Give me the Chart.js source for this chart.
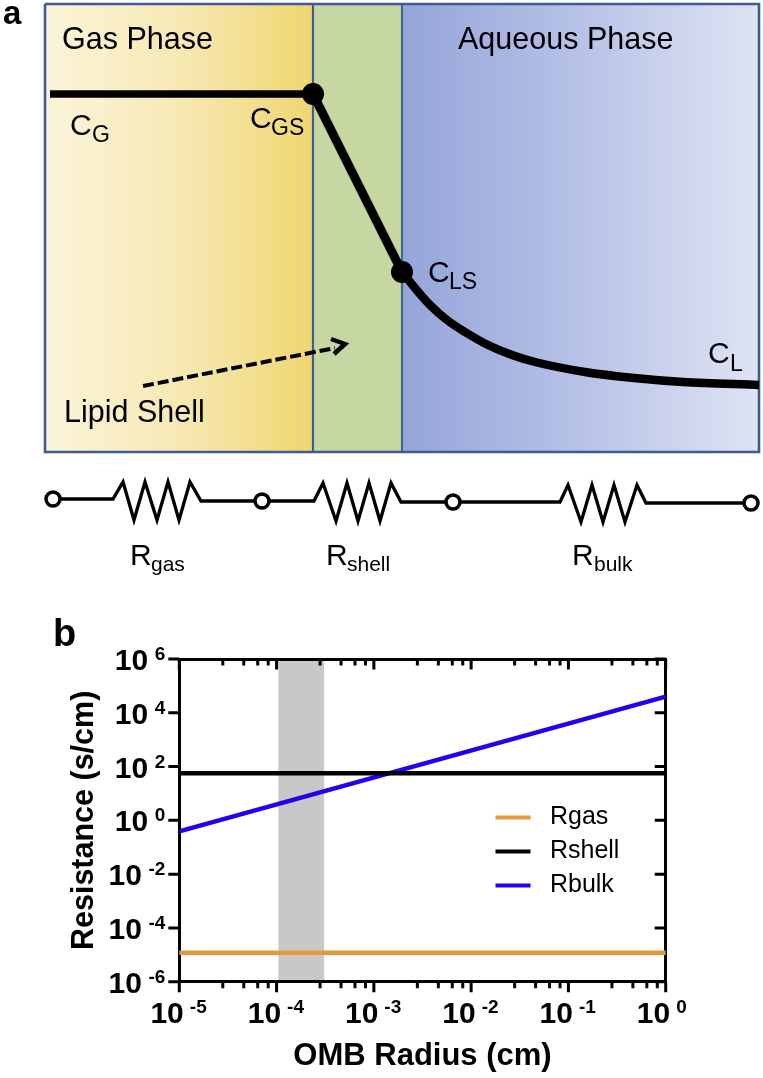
<!DOCTYPE html>
<html>
<head>
<meta charset="utf-8">
<title>OMB resistance</title>
<script src="https://cdn.jsdelivr.net/npm/chart.js@4/dist/chart.umd.min.js"></script>
<style>
  html, body { margin: 0; padding: 0; background: #fff; }
  #page { position: relative; width: 763px; height: 1078px; overflow: hidden; }
  canvas { position: absolute; left: 0; }
  #diagram { top: 0; }
  #resistance { top: 600px; }
</style>
</head>
<body>
<div id="page">
  <canvas id="diagram" width="763" height="600"></canvas>
  <canvas id="resistance" width="763" height="478"></canvas>
</div>
<script>
// panel a
const frameX = [45, 759, 759, 45, 45];
const frameY = [4, 4, 452, 452, 4];
const gasX = [45, 313];
const shellX = [313, 402];
const aqueousX = [402, 759];
const regionTop = [4, 4];
const regionBottom = 452;
const gasEdgeX = [313, 313];
const aqueousEdgeX = [402, 402];
const edgeY = [4, 452];

const flatX = [50, 313];
const flatY = [94, 94];
const slopeX = [313, 402];
const slopeY = [94, 272];
const decayX = [402, 415, 430, 447, 465, 488, 512, 537, 585, 634, 683, 759];
const decayY = [272, 288, 305, 320, 332, 345, 355, 362.5, 372, 378, 382, 385];
const dotX = [313, 402];
const dotY = [94, 272];
const arrowX = [143, 335];
const arrowY = [386, 348];
const arrowHeadX = [331, 345, 334];
const arrowHeadY = [339, 344, 354];

// circuit
const wire1X = [53, 113, 123, 134, 145, 157, 168, 179, 190, 201, 254];
const wire1Y = [499, 499, 482, 520, 482, 520, 482, 520, 482, 501, 501];
const wire2X = [270, 314, 323, 336, 347, 358, 369, 380, 391, 401, 445];
const wire2Y = [501, 501, 483, 521, 483, 521, 483, 521, 483, 502, 502];
const wire3X = [461, 560, 568, 581, 592, 603, 614, 625, 637, 646, 743];
const wire3Y = [502, 502, 485, 522, 485, 522, 485, 522, 485, 503, 503];
const nodeX = [53, 262, 453, 751];
const nodeY = [499, 501, 502, 503];

// panel b
const xTickValues = [1e-5, 1e-4, 1e-3, 1e-2, 1e-1, 1];
const xTickExponents = ['-5', '-4', '-3', '-2', '-1', '0'];
const xMinorFactors = [2.8, 4.6, 6.4, 8.2];
const yTickValues = [1e-6, 1e-4, 1e-2, 1, 1e2, 1e4, 1e6];
const yTickExponents = ['-6', '-4', '-2', '0', '2', '4', '6'];

const radius = [1e-5, 1];
const rgas = [1.2e-5, 1.2e-5];
const rshell = [57, 57];
const rbulk = [0.39, 40000];
const seriesNames = ['Rgas', 'Rshell', 'Rbulk'];
const bandX = [1.04e-4, 3.1e-4];
const bandTop = [1e6, 1e6];

const FONT = '"Liberation Sans", Arial, sans-serif';
const pts = (xs, ys) => xs.map((x, i) => ({ x: x, y: ys[i] }));

function hGradient(xFrom, xTo, stops) {
    return function (ctx) {
        const chart = ctx.chart;
        const x0 = chart.scales.x ? chart.scales.x.getPixelForValue(xFrom) : NaN;
        const x1 = chart.scales.x ? chart.scales.x.getPixelForValue(xTo) : NaN;
        // scales have no size yet on the first option pass
        if (!Number.isFinite(x0) || !Number.isFinite(x1)) return stops[0];
        const g = chart.ctx.createLinearGradient(x0, 0, x1, 0);
        stops.forEach((c, i) => g.addColorStop(i / (stops.length - 1), c));
        return g;
    };
}

// text on the diagram: [text, x, baseline y, size, subscript, sub dx, sub dy, sub size]
const diagramLabels = [
    ['Gas Phase', 62, 49, 30.5],
    ['Aqueous Phase', 458, 49, 30.5],
    ['Lipid Shell', 64, 422, 30.5],
    ['C', 70, 135, 30, 'G', 22, 7, 23],
    ['C', 250, 128, 30, 'GS', 21, 7, 23],
    ['C', 428, 282, 30, 'LS', 21, 7, 23],
    ['C', 708, 363, 30, 'L', 22, 8, 23],
    ['R', 130, 565, 30, 'gas', 21, 6, 21],
    ['R', 326, 565, 30, 'shell', 21, 6, 21],
    ['R', 572, 565, 30, 'bulk', 22, 6, 21]
];

const diagramText = {
    id: 'diagramText',
    afterDatasetsDraw(chart) {
        const c = chart.ctx, sx = chart.scales.x, sy = chart.scales.y;
        c.save();
        c.fillStyle = '#000';
        c.textAlign = 'left';
        c.textBaseline = 'alphabetic';
        diagramLabels.forEach(l => {
            const x = sx.getPixelForValue(l[1]), y = sy.getPixelForValue(l[2]);
            c.font = l[3] + 'px ' + FONT;
            c.fillText(l[0], x, y);
            if (l[4]) {
                c.font = l[7] + 'px ' + FONT;
                c.fillText(l[4], x + l[5], y + l[6]);
            }
        });
        c.font = 'bold 33px ' + FONT;
        c.fillText('a', 3, 24);
        c.restore();
    }
};

const wire = (xs, ys) => ({
    data: pts(xs, ys), showLine: true, borderColor: '#000', borderWidth: 3.3,
    pointRadius: 0, borderJoinStyle: 'miter', clip: false
});

new Chart(document.getElementById('diagram'), {
    type: 'scatter',
    data: {
        // first dataset ends up on top
        datasets: [
            { data: pts(dotX, dotY), pointRadius: 11, pointBackgroundColor: '#000', pointBorderWidth: 0, showLine: false },
            { data: pts(flatX, flatY), showLine: true, borderColor: '#000', borderWidth: 7.5, pointRadius: 0 },
            { data: pts(slopeX, slopeY), showLine: true, borderColor: '#000', borderWidth: 9, pointRadius: 0 },
            { data: pts(decayX, decayY), showLine: true, borderColor: '#000', borderWidth: 8.5, pointRadius: 0, cubicInterpolationMode: 'monotone', clip: false },
            { data: pts(arrowHeadX, arrowHeadY), showLine: true, borderColor: '#000', borderWidth: 4.5, pointRadius: 0 },
            { data: pts(arrowX, arrowY), showLine: true, borderColor: '#000', borderWidth: 4, borderDash: [11, 4], pointRadius: 0 },
            { data: pts(nodeX, nodeY), pointRadius: 7, pointBackgroundColor: '#fff', pointBorderColor: '#000', pointBorderWidth: 3.5, showLine: false },
            wire(wire1X, wire1Y),
            wire(wire2X, wire2Y),
            wire(wire3X, wire3Y),
            { data: pts(frameX, frameY), showLine: true, borderColor: '#3f5a94', borderWidth: 2.6, pointRadius: 0, clip: false },
            { data: pts(gasEdgeX, edgeY), showLine: true, borderColor: '#3f5a94', borderWidth: 2.2, pointRadius: 0 },
            { data: pts(aqueousEdgeX, edgeY), showLine: true, borderColor: '#3d6a84', borderWidth: 2.2, pointRadius: 0 },
            { data: pts(gasX, regionTop), showLine: true, borderWidth: 0, pointRadius: 0, fill: { value: regionBottom },
              backgroundColor: hGradient(gasX[0], gasX[1], ['#fbf4d9', '#f7e9b4', '#efd670']) },
            { data: pts(shellX, regionTop), showLine: true, borderWidth: 0, pointRadius: 0, fill: { value: regionBottom },
              backgroundColor: '#c7d7a1' },
            { data: pts(aqueousX, regionTop), showLine: true, borderWidth: 0, pointRadius: 0, fill: { value: regionBottom },
              backgroundColor: hGradient(aqueousX[0], aqueousX[1], ['#95a5d9', '#b7c2e7', '#dfe4f3']) }
        ]
    },
    options: {
        responsive: false,
        animation: false,
        events: [],
        layout: { padding: 0, autoPadding: false },
        plugins: { legend: { display: false }, tooltip: { enabled: false } },
        scales: {
            x: { type: 'linear', display: false, min: 0, max: 763 },
            y: { type: 'linear', display: false, min: 0, max: 600, reverse: true }
        }
    },
    plugins: [diagramText]
});

// tick marks and labels of panel b, read back from the library's scales
const axisMarks = {
    id: 'axisMarks',
    afterDatasetsDraw(chart) {
        const c = chart.ctx, s = chart.scales;
        c.save();
        c.strokeStyle = '#000';
        c.lineWidth = 3;
        c.beginPath();
        s.x.ticks.forEach(t => {
            const px = s.x.getPixelForValue(t.value), len = t.major ? 10.5 : 6.5;
            c.moveTo(px, s.x.top); c.lineTo(px, s.x.top + len);
            c.moveTo(px, s.xTop.bottom); c.lineTo(px, s.xTop.bottom + len);
        });
        s.y.ticks.forEach(t => {
            const py = s.y.getPixelForValue(t.value);
            c.moveTo(s.y.right, py); c.lineTo(s.y.right - 11, py);
            c.moveTo(s.yRight.left, py); c.lineTo(s.yRight.left - 11, py);
        });
        c.stroke();

        c.fillStyle = '#000';
        c.textBaseline = 'alphabetic';
        xTickValues.forEach((v, i) => {
            const px = s.x.getPixelForValue(v);
            c.font = 'bold 30px ' + FONT;
            c.textAlign = 'right';
            c.fillText('10', px + 4.5, 1023 - 600);
            c.font = 'bold 19px ' + FONT;
            c.textAlign = 'left';
            c.fillText(xTickExponents[i], px + 10.5, 1013 - 600);
        });
        yTickValues.forEach((v, i) => {
            const py = s.y.getPixelForValue(v);
            c.font = 'bold 19px ' + FONT;
            c.textAlign = 'right';
            const w = c.measureText(yTickExponents[i]).width;
            c.fillText(yTickExponents[i], s.y.right - 14, py + 1);
            c.font = 'bold 30px ' + FONT;
            c.fillText('10', s.y.right - 14 - w - 6.5, py + 11);
        });
        c.font = 'bold 38px ' + FONT;
        c.textAlign = 'left';
        c.fillText('b', 53, 646 - 600);
        c.restore();
    }
};

// chart.js has no free legend position, so slide it into place after layout
const legendPlace = {
    id: 'legendPlace',
    afterLayout(chart) {
        const l = chart.legend;
        const dx = 486.5 - l.left;
        const dy = 196 - l.top;
        l.left += dx; l.right += dx;
        l.top += dy; l.bottom += dy;
    }
};

function axisBase() {
    return {
        type: 'logarithmic',
        grid: { display: false, drawTicks: false },
        ticks: { display: false },
        border: { display: true, color: '#000', width: 3 }
    };
}

const xMajorMinor = [];
xTickValues.forEach((v, i) => {
    xMajorMinor.push({ value: v, major: true });
    if (i < xTickValues.length - 1) {
        xMinorFactors.forEach(f => xMajorMinor.push({ value: v * f, major: false }));
    }
});

new Chart(document.getElementById('resistance'), {
    type: 'scatter',
    data: {
        datasets: [
            { label: seriesNames[0], data: pts(radius, rgas), showLine: true, borderColor: '#e29a3e', backgroundColor: '#e29a3e', borderWidth: 4.5, pointRadius: 0, clip: false },
            { label: seriesNames[1], data: pts(radius, rshell), showLine: true, borderColor: '#000000', backgroundColor: '#000000', borderWidth: 4.5, pointRadius: 0, clip: false },
            { label: seriesNames[2], data: pts(radius, rbulk), showLine: true, borderColor: '#2200f0', backgroundColor: '#2200f0', borderWidth: 4.5, pointRadius: 0, clip: false },
            { data: pts(bandX, bandTop), showLine: true, borderWidth: 0, pointRadius: 0, backgroundColor: '#c8c8c8', fill: { value: 1e-6 } }
        ]
    },
    options: {
        responsive: false,
        animation: false,
        events: [],
        layout: { padding: 0, autoPadding: false },
        plugins: {
            tooltip: { enabled: false },
            legend: {
                position: 'chartArea',
                align: 'start',
                labels: {
                    boxWidth: 35,
                    boxHeight: 4,
                    padding: 9,
                    color: '#000',
                    font: { family: FONT, size: 25 },
                    generateLabels(chart) {
                        return Chart.defaults.plugins.legend.labels.generateLabels(chart)
                            .filter(item => seriesNames.includes(item.text))
                            .map(item => Object.assign(item, { text: ' ' + item.text, lineWidth: 0 }));
                    }
                }
            }
        },
        scales: {
            x: Object.assign(axisBase(), {
                position: 'bottom', min: 1e-5, max: 1,
                border: { display: true, color: '#000', width: 3, z: 1 },
                afterBuildTicks(scale) { scale.ticks = xMajorMinor.slice(); },
                afterFit(scale) { scale.height = 96.3; },
                title: { display: true, text: 'OMB Radius (cm)', color: '#000',
                         font: { family: FONT, size: 31, weight: 'bold' }, padding: { top: 0, bottom: 3 } }
            }),
            xTop: Object.assign(axisBase(), {
                position: 'top', min: 1e-5, max: 1,
                border: { display: true, color: '#000', width: 3, z: 1 },
                afterFit(scale) { scale.height = 59; }
            }),
            y: Object.assign(axisBase(), {
                position: 'left', min: 1e-6, max: 1e6,
                afterBuildTicks(scale) { scale.ticks = yTickValues.map(v => ({ value: v, major: true })); },
                afterFit(scale) { scale.width = 179.3; },
                title: { display: true, text: 'Resistance (s/cm)', color: '#000',
                         font: { family: FONT, size: 30.5, weight: 'bold' }, padding: { top: 66, bottom: 0 } }
            }),
            yRight: Object.assign(axisBase(), {
                position: 'right', min: 1e-6, max: 1e6,
                afterFit(scale) { scale.width = 97.3; }
            })
        }
    },
    plugins: [axisMarks, legendPlace]
});
</script>
</body>
</html>
